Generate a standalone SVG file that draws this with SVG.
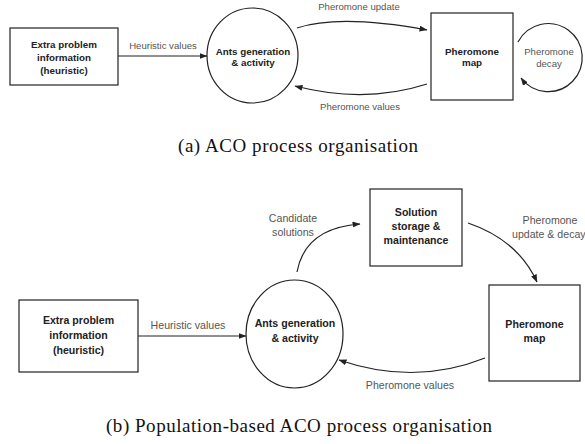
<svg xmlns="http://www.w3.org/2000/svg" width="585" height="444" viewBox="0 0 585 444">
<style>
.box{fill:#fff;stroke:#222;stroke-width:1.2}
.ell{fill:#fff;stroke:#222;stroke-width:1.2}
.con{fill:none;stroke:#222;stroke-width:1.2}
.b1{font-family:"Liberation Sans",Arial,sans-serif;font-weight:bold;font-size:9.8px;fill:#222;text-anchor:middle}
.l1{font-family:"Liberation Sans",Arial,sans-serif;font-size:9.6px;fill:#555;text-anchor:middle}
.b2{font-family:"Liberation Sans",Arial,sans-serif;font-weight:bold;font-size:10.6px;fill:#222;text-anchor:middle}
.l2{font-family:"Liberation Sans",Arial,sans-serif;font-size:10.6px;fill:#555;text-anchor:middle}
.cap{font-family:"Liberation Serif","Times New Roman",serif;font-size:19px;fill:#111}
</style>
<defs>
<marker id="ah" viewBox="0 0 8 6" refX="7.5" refY="3" markerWidth="8" markerHeight="6" markerUnits="userSpaceOnUse" orient="auto">
<path d="M0,0 L8,3 L0,6 z" fill="#222"/>
</marker>
</defs>

<!-- (a) -->
<g id="a-extra">
<rect class="box" x="10" y="28" width="108" height="57"/>
<text class="b1" x="64" y="48">Extra problem</text>
<text class="b1" x="64" y="61">information</text>
<text class="b1" x="64" y="74">(heuristic)</text>
</g>
<g id="a-ants">
<ellipse class="ell" cx="252.5" cy="55.5" rx="45.5" ry="47.5"/>
<text class="b1" x="253" y="55">Ants generation</text>
<text class="b1" x="253" y="66">&amp; activity</text>
</g>
<g id="a-map">
<rect class="box" x="431" y="13" width="82" height="87"/>
<text class="b1" x="472" y="55">Pheromone</text>
<text class="b1" x="472" y="66">map</text>
</g>
<g id="a-connectors">
<line class="con" x1="118" y1="56" x2="207" y2="56" marker-end="url(#ah)"/>
<text class="l1" x="163" y="48.5">Heuristic values</text>
<path class="con" d="M297,28 Q340,14 427,30" marker-end="url(#ah)"/>
<text class="l1" x="359" y="10">Pheromone update</text>
<path class="con" d="M427,84 Q365,104 295,86" marker-end="url(#ah)"/>
<text class="l1" x="360" y="110">Pheromone values</text>
<path class="con" d="M518,42 A34,34 0 1 1 521,78" marker-end="url(#ah)"/>
<text class="l1" x="549" y="55">Pheromone</text>
<text class="l1" x="549" y="67">decay</text>
</g>
<text class="cap" x="178" y="152" textLength="240" lengthAdjust="spacing">(a) ACO process organisation</text>

<!-- (b) -->
<g id="b-extra">
<rect class="box" x="19" y="300" width="119" height="72"/>
<text class="b2" x="78.5" y="324">Extra problem</text>
<text class="b2" x="78.5" y="339">information</text>
<text class="b2" x="78.5" y="354">(heuristic)</text>
</g>
<g id="b-ants">
<ellipse class="ell" cx="294.5" cy="334" rx="48.5" ry="54"/>
<text class="b2" x="295" y="327">Ants generation</text>
<text class="b2" x="295" y="342">&amp; activity</text>
</g>
<g id="b-storage">
<rect class="box" x="370" y="189" width="92" height="77"/>
<text class="b2" x="416" y="216">Solution</text>
<text class="b2" x="416" y="230">storage &amp;</text>
<text class="b2" x="416" y="244">maintenance</text>
</g>
<g id="b-map">
<rect class="box" x="489" y="285" width="91" height="96"/>
<text class="b2" x="534.5" y="328">Pheromone</text>
<text class="b2" x="534.5" y="342">map</text>
</g>
<g id="b-connectors">
<line class="con" x1="138" y1="336" x2="246" y2="336" marker-end="url(#ah)"/>
<text class="l2" x="188" y="329">Heuristic values</text>
<path class="con" d="M297,272 Q305,228 360,224" marker-end="url(#ah)"/>
<text class="l2" x="293" y="222">Candidate</text>
<text class="l2" x="293" y="236">solutions</text>
<path class="con" d="M468,223 Q518,240 537,282" marker-end="url(#ah)"/>
<text class="l2" x="550" y="224">Pheromone</text>
<text class="l2" x="512" y="238" style="text-anchor:start">update &amp; decay</text>
<path class="con" d="M485,358 Q415,386 339,360" marker-end="url(#ah)"/>
<text class="l2" x="410" y="389">Pheromone values</text>
</g>
<text class="cap" x="106" y="432" textLength="386" lengthAdjust="spacing">(b) Population-based ACO process organisation</text>
</svg>
